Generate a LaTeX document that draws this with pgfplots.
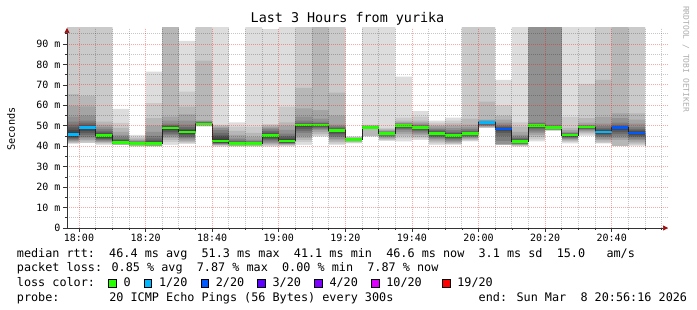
\documentclass[border=0pt]{standalone}
\usepackage{pgfplots}
\pgfplotsset{compat=1.18}
\usepackage{pgfplotstable}
\usetikzlibrary{arrows.meta}
\usepackage{fontspec}
\newfontfamily\mono{DejaVu Sans Mono}
\definecolor{Lone}{HTML}{DDDDDD}
\definecolor{Ltwo}{HTML}{CACACA}
\definecolor{Lthree}{HTML}{B7B7B7}
\definecolor{Lfour}{HTML}{A4A4A4}
\definecolor{Lfive}{HTML}{919191}
\definecolor{Lsix}{HTML}{7E7E7E}
\definecolor{Lseven}{HTML}{6B6B6B}
\definecolor{Leight}{HTML}{585858}
\definecolor{Lnine}{HTML}{454545}
\definecolor{Lten}{HTML}{323232}
\definecolor{lossA}{HTML}{26FF00}
\definecolor{lossB}{HTML}{00B8FF}
\definecolor{lossC}{HTML}{0059FF}
\definecolor{lossD}{HTML}{5E00FF}
\definecolor{lossE}{HTML}{7E00FF}
\definecolor{lossF}{HTML}{DD00FF}
\definecolor{lossG}{HTML}{FF0000}
\definecolor{gridred}{HTML}{FF0000}
\definecolor{arrowred}{HTML}{A01010}

\pgfplotstableread{
t p1 p2 p3 p4 p5 p6 p7 p8 p9 p10 p11 p12 p13 p14 p15 p16 p17 p18 p19 p20 m
-5 41.2 41.2 41.8 42.2 42.6 43.0 43.5 44.0 44.4 45.0 46.6 48.0 49.2 50.5 52.0 54.5 59.7 65.5 150 150 45.8
0 41.5 41.5 42.3 43.0 43.8 44.5 45.5 46.5 47.5 48.6 49.6 50.0 50.6 51.5 52.5 55.0 59.5 64.6 150 150 49.1
5 40.6 41.2 41.6 42.0 42.4 42.8 43.2 43.6 44.2 44.8 45.6 46.2 46.8 47.5 48.5 49.5 50.5 52.0 150 150 45.2
10 40.5 40.6 40.7 40.8 40.9 41.0 41.1 41.2 41.4 41.6 42.2 42.6 43.0 43.6 44.5 45.5 47.0 49.0 51.4 58.3 41.9
15 39.8 40.1 40.2 40.3 40.4 40.5 40.6 40.8 41.0 41.15 41.45 41.6 41.8 42.0 42.3 42.7 43.2 43.8 44.5 45.5 41.3
20 39.8 40.0 40.1 40.2 40.3 40.4 40.5 40.7 40.9 41.1 41.7 42.2 42.8 43.8 45.0 47.0 50.0 53.7 61.0 76.5 41.4
25 40.6 42.0 43.0 44.0 44.8 45.5 46.2 47.0 47.8 48.5 49.1 49.4 49.8 50.3 51.0 52.5 54.5 150 150 150 48.8
30 41.0 41.5 42.0 42.6 43.3 44.0 44.6 45.3 46.0 46.6 47.4 47.9 48.5 49.3 50.5 52.5 55.5 59.3 66.7 91.5 47.0
35 49.6 49.8 50.0 50.1 50.2 50.3 50.4 50.5 50.6 50.75 51.05 51.2 51.4 51.6 51.9 52.2 52.6 81.9 150 150 50.9
40 39.8 40.2 40.5 40.7 40.9 41.1 41.3 41.5 41.7 42.0 43.2 44.3 45.3 46.5 47.8 48.8 49.5 50.0 50.5 150 42.6
45 39.8 40.0 40.2 40.3 40.4 40.5 40.6 40.7 40.9 41.1 41.5 41.8 42.1 42.6 43.3 44.2 45.5 47.5 49.6 51.6 41.3
50 39.8 40.0 40.2 40.4 40.5 40.6 40.8 40.9 41.1 41.25 41.55 41.7 41.9 42.2 42.6 43.2 44.5 46.5 49.6 150 41.4
55 39.8 40.3 40.8 41.3 41.8 42.4 43.0 43.6 44.3 44.9 45.5 46.0 46.6 47.4 48.2 49.0 49.6 50.2 50.8 97.3 45.2
60 39.9 40.3 40.6 40.8 41.0 41.2 41.4 41.6 41.9 42.2 43.0 43.6 44.3 45.0 46.2 48.0 50.0 51.7 59.3 150 42.6
65 40.6 42.0 43.0 44.0 45.0 46.5 47.5 48.5 49.5 50.2 50.6 50.8 51.0 51.5 52.5 54.5 58.5 68.5 150 150 50.4
70 44.7 45.2 46.0 47.0 47.8 48.4 49.0 49.5 49.9 50.2 50.6 50.8 51.0 51.3 52.0 53.5 57.6 150 150 150 50.4
75 40.6 41.3 42.0 42.8 43.6 44.4 45.2 46.0 46.7 47.3 47.9 48.2 48.6 49.2 49.8 50.5 55.0 66.2 150 150 47.6
80 41.4 41.7 42.0 42.3 42.6 42.8 43.0 43.1 43.2 43.3 43.5 43.55 43.6 43.7 43.8 43.9 44.1 44.3 44.5 44.8 43.4
85 44.7 44.8 44.9 48.7 48.8 48.85 48.9 48.95 49.0 49.05 49.2 49.3 49.4 49.5 49.6 49.7 49.9 50.3 50.5 150 49.1
90 42.6 42.9 43.3 43.8 44.3 44.8 45.2 45.6 45.9 46.15 46.45 46.6 46.7 46.9 47.1 47.4 47.8 48.3 49.0 150 46.3
95 42.3 43.8 45.0 46.0 47.0 47.8 48.4 49.0 49.5 49.95 50.25 50.4 50.6 50.8 51.0 51.3 51.8 52.5 54.0 74.0 50.1
100 43.0 43.8 44.6 45.4 46.1 46.8 47.4 48.0 48.5 48.9 49.3 49.5 49.7 50.0 50.4 51.0 51.7 52.5 54.5 57.2 49.1
105 40.6 41.4 42.2 42.8 43.4 44.0 44.5 45.0 45.5 45.95 46.45 46.8 47.2 47.8 48.4 49.1 49.8 50.6 51.5 52.5 46.2
110 40.6 41.0 41.4 41.9 42.4 42.9 43.4 43.9 44.4 44.9 45.5 45.9 46.4 47.0 47.8 48.8 50.0 51.2 52.5 54.0 45.2
115 42.3 42.7 43.2 43.7 44.1 44.5 44.9 45.3 45.7 46.05 46.55 46.8 47.1 47.6 48.3 49.2 50.5 53.5 150 150 46.3
120 48.8 48.8 49.2 49.5 49.8 50.1 50.4 50.7 51.0 51.3 51.7 51.85 51.95 52.1 52.3 52.6 53.0 61.8 150 150 51.5
125 40.6 40.6 40.6 40.65 40.7 42.5 45.0 46.5 47.5 48.1 48.7 49.0 49.3 49.8 50.5 51.5 53.0 55.0 60.0 72.4 48.4
130 39.8 40.1 40.4 40.6 40.8 41.0 41.2 41.45 41.7 41.95 42.45 42.8 43.3 43.9 44.6 45.5 47.0 49.6 51.7 150 42.2
135 42.3 43.3 44.5 45.5 46.5 47.3 48.2 49.0 49.6 50.0 50.4 50.6 50.8 51.2 51.7 150 150 150 150 150 50.2
140 47.5 47.6 47.8 47.9 48.0 48.2 48.4 48.6 48.8 48.95 49.25 49.4 49.6 49.9 50.5 150 150 150 150 150 49.1
145 41.4 42.0 42.5 43.0 43.4 43.8 44.2 44.6 45.0 45.35 45.65 45.8 46.0 46.2 46.5 47.0 47.8 49.0 54.3 150 45.5
150 45.0 45.8 46.5 47.1 47.6 48.0 48.4 48.7 49.0 49.25 49.55 49.65 49.75 49.9 50.2 50.6 51.5 53.7 70.5 150 49.4
155 41.4 41.4 42.2 43.0 43.7 44.4 45.0 45.6 46.2 46.7 47.3 47.7 48.2 48.9 49.8 51.0 54.3 72.4 150 150 47.0
160 40.0 40.0 40.0 43.0 44.0 45.0 46.0 47.0 48.0 48.8 49.4 49.6 49.9 50.5 51.5 53.7 56.0 150 150 150 49.1
165 40.2 40.8 41.4 42.2 43.0 43.7 44.4 45.0 45.6 46.2 46.8 47.2 47.7 48.5 49.5 51.0 53.0 56.0 150 150 46.5
170 40.2 40.8 41.4 42.2 43.0 43.7 44.4 45.0 45.6 46.2 46.8 47.2 47.7 48.5 49.5 51.0 53.0 56.0 150 150 46.5
180 40.2 40.8 41.4 42.2 43.0 43.7 44.4 45.0 45.6 46.2 46.8 47.2 47.7 48.5 49.5 51.0 53.0 56.0 150 150 46.5
}\smoketab

\pgfplotsset{smk/.style={const plot, draw=none, fill=#1, forget plot, restrict x to domain=-5:170}}

\begin{document}
\begin{tikzpicture}
\path[use as bounding box] (0,0) rectangle (697pt,310pt);
\begin{axis}[
  at={(67pt,82pt)}, anchor=south west,
  width=601pt, height=200pt, scale only axis,
  xmin=-3.6, xmax=176.9, ymin=0, ymax=97.8,
  axis lines=left,
  axis on top,
  x axis line style={black!80, line width=0.7pt, -{Triangle[length=5pt,width=5pt,color=arrowred]}},
  y axis line style={black!80, line width=0.7pt, -{Triangle[length=5pt,width=5pt,color=arrowred]}},
  xtick={0,20,...,160},
  xticklabels={18:00,18:20,18:40,19:00,19:20,19:40,20:00,20:20,20:40},
  minor xtick={5,10,15,25,30,35,45,50,55,65,70,75,85,90,95,105,110,115,125,130,135,145,150,155,165,170,175},
  ytick={0,10,...,90},
  yticklabels={0,10 m,20 m,30 m,40 m,50 m,60 m,70 m,80 m,90 m},
  minor ytick={5,15,...,95},
  grid=both,
  major grid style={draw=gridred, opacity=0.35, line width=0.8pt, dash pattern=on 1pt off 1pt},
  minor grid style={draw=black, opacity=0.22, line width=0.8pt, dash pattern=on 1pt off 1pt},
  tick align=outside,
  major tick length=4pt, minor tick length=2pt,
  tick style={black!80, line width=0.6pt},
  tick label style={font=\mono\fontsize{10}{12}\selectfont},
  xticklabel style={yshift=1pt},
  yticklabel style={xshift=1pt},
  unbounded coords=jump,
]
\addplot[smk=Lone] table[x=t, y=p20] {\smoketab} \closedcycle;
\addplot[smk=Ltwo] table[x=t, y=p19] {\smoketab} \closedcycle;
\addplot[smk=Lthree] table[x=t, y=p18] {\smoketab} \closedcycle;
\addplot[smk=Lfour] table[x=t, y=p17] {\smoketab} \closedcycle;
\addplot[smk=Lfive] table[x=t, y=p16] {\smoketab} \closedcycle;
\addplot[smk=Lsix] table[x=t, y=p15] {\smoketab} \closedcycle;
\addplot[smk=Lseven] table[x=t, y=p14] {\smoketab} \closedcycle;
\addplot[smk=Leight] table[x=t, y=p13] {\smoketab} \closedcycle;
\addplot[smk=Lnine] table[x=t, y=p12] {\smoketab} \closedcycle;
\addplot[smk=Lten] table[x=t, y=p11] {\smoketab} \closedcycle;
\addplot[smk=Lnine] table[x=t, y=p10] {\smoketab} \closedcycle;
\addplot[smk=Leight] table[x=t, y=p9] {\smoketab} \closedcycle;
\addplot[smk=Lseven] table[x=t, y=p8] {\smoketab} \closedcycle;
\addplot[smk=Lsix] table[x=t, y=p7] {\smoketab} \closedcycle;
\addplot[smk=Lfive] table[x=t, y=p6] {\smoketab} \closedcycle;
\addplot[smk=Lfour] table[x=t, y=p5] {\smoketab} \closedcycle;
\addplot[smk=Lthree] table[x=t, y=p4] {\smoketab} \closedcycle;
\addplot[smk=Ltwo] table[x=t, y=p3] {\smoketab} \closedcycle;
\addplot[smk=Lone] table[x=t, y=p2] {\smoketab} \closedcycle;
\addplot[const plot, draw=none, fill=white, forget plot] table[x=t, y=p1] {\smoketab} \closedcycle;
\addplot[const plot, black!85, line width=0.8pt, forget plot, restrict x to domain=-5:170] table[x=t, y=m] {\smoketab};
\addplot[lossA, line width=2.6pt, forget plot] table[row sep=\\] {
x y\\
5 45.2\\ 10 45.2\\ nan nan\\
10 41.9\\ 15 41.9\\ nan nan\\
15 41.3\\ 20 41.3\\ nan nan\\
20 41.4\\ 25 41.4\\ nan nan\\
25 48.8\\ 30 48.8\\ nan nan\\
30 47.0\\ 35 47.0\\ nan nan\\
35 50.9\\ 40 50.9\\ nan nan\\
40 42.6\\ 45 42.6\\ nan nan\\
45 41.3\\ 50 41.3\\ nan nan\\
50 41.4\\ 55 41.4\\ nan nan\\
55 45.2\\ 60 45.2\\ nan nan\\
60 42.6\\ 65 42.6\\ nan nan\\
65 50.4\\ 70 50.4\\ nan nan\\
70 50.4\\ 75 50.4\\ nan nan\\
75 47.6\\ 80 47.6\\ nan nan\\
80 43.4\\ 85 43.4\\ nan nan\\
85 49.1\\ 90 49.1\\ nan nan\\
90 46.3\\ 95 46.3\\ nan nan\\
95 50.1\\ 100 50.1\\ nan nan\\
100 49.1\\ 105 49.1\\ nan nan\\
105 46.2\\ 110 46.2\\ nan nan\\
110 45.2\\ 115 45.2\\ nan nan\\
115 46.3\\ 120 46.3\\ nan nan\\
130 42.2\\ 135 42.2\\ nan nan\\
135 50.2\\ 140 50.2\\ nan nan\\
140 49.1\\ 145 49.1\\ nan nan\\
145 45.5\\ 150 45.5\\ nan nan\\
150 49.4\\ 155 49.4\\
};
\addplot[lossB, line width=2.6pt, forget plot] table[row sep=\\] {
x y\\
-5 45.8\\ 0 45.8\\ nan nan\\
0 49.1\\ 5 49.1\\ nan nan\\
120 51.5\\ 125 51.5\\ nan nan\\
155 47.0\\ 160 47.0\\
};
\addplot[lossC, line width=2.6pt, forget plot] table[row sep=\\] {
x y\\
125 48.4\\ 130 48.4\\ nan nan\\
160 49.1\\ 165 49.1\\ nan nan\\
165 46.5\\ 170 46.5\\
};
\end{axis}

\node[font=\mono\fontsize{13.4}{15}\selectfont, anchor=base] at (347.5pt,287pt) {Last 3 Hours from yurika};
\node[font=\mono\fontsize{10.2}{12}\selectfont, rotate=90] at (11pt,181pt) {Seconds};
\node[font=\mono\fontsize{8}{9}\selectfont, rotate=-90, text=black!32] at (686pt,251pt) {RRDTOOL / TOBI OETIKER};

\begin{scope}[every node/.style={font=\mono\fontsize{11.8}{13}\selectfont, anchor=base west, inner sep=0pt}]
\node at (16.7pt,52pt) {median rtt:\ \ 46.4 ms avg\ \ 51.3 ms max\ \ 41.1 ms min\ \ 46.6 ms now\ \ 3.1 ms sd\ \ 15.0\ \ \ am/s};
\node at (16.7pt,38pt) {packet loss: 0.85 \% avg\ \ 7.87 \% max\ \ 0.00 \% min\ \ 7.87 \% now};
\node at (16.7pt,23pt) {loss color:};
\node at (123.3pt,23pt) {0};
\node at (158.8pt,23pt) {1/20};
\node at (215.6pt,23pt) {2/20};
\node at (272.4pt,23pt) {3/20};
\node at (329.3pt,23pt) {4/20};
\node at (386.1pt,23pt) {10/20};
\node at (457.1pt,23pt) {19/20};
\node at (16.7pt,8pt) {probe:\ \ \ \ \ \ \ 20 ICMP Echo Pings (56 Bytes) every 300s};
\node at (478.5pt,8pt) {end: Sun Mar\ \ 8 20:56:16 2026};
\end{scope}
\begin{scope}[line width=0.8pt]
\filldraw[fill=lossA, draw=black] (108.6pt,23pt) rectangle ++(7.5pt,8pt);
\filldraw[fill=lossB, draw=black] (144.1pt,23pt) rectangle ++(7.5pt,8pt);
\filldraw[fill=lossC, draw=black] (200.9pt,23pt) rectangle ++(7.5pt,8pt);
\filldraw[fill=lossD, draw=black] (257.7pt,23pt) rectangle ++(7.5pt,8pt);
\filldraw[fill=lossE, draw=black] (314.5pt,23pt) rectangle ++(7.5pt,8pt);
\filldraw[fill=lossF, draw=black] (371.4pt,23pt) rectangle ++(7.5pt,8pt);
\filldraw[fill=lossG, draw=black] (442.4pt,23pt) rectangle ++(7.5pt,8pt);
\end{scope}
\end{tikzpicture}
\end{document}
